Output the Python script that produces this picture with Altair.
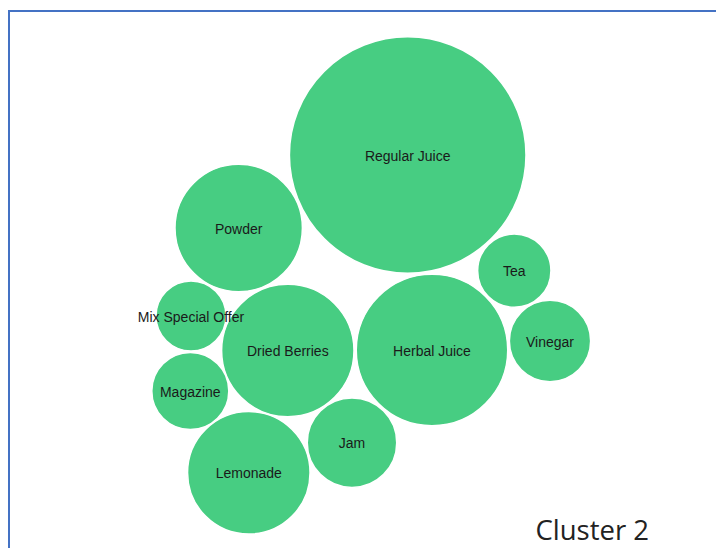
import altair as alt
import pandas as pd

# Bubble data (layout centres, values proportional to bubble area)
names = ["Regular Juice", "Herbal Juice", "Dried Berries", "Powder", "Lemonade",
         "Jam", "Vinegar", "Magazine", "Tea", "Mix Special Offer"]
values = [100, 41, 31.3, 29, 26.8, 14.3, 11.8, 10.6, 9.6, 8.75]
layout_x = [407.7, 432, 287.8, 238.7, 248.8, 352, 550, 190.3, 514.3, 191]
layout_y = [155, 350, 350.5, 228, 472.8, 442.7, 341, 391, 270.7, 316]
cluster_label = ["Cluster 2"]

df = pd.DataFrame({"name": names, "value": values, "x": layout_x, "y": layout_y})

W, H = 704, 540
xs = alt.Scale(domain=[12, 12 + W])
ys = alt.Scale(domain=[8, 8 + H], reverse=True)

base = alt.Chart(df).encode(
    x=alt.X("x:Q", scale=xs, axis=None),
    y=alt.Y("y:Q", scale=ys, axis=None),
)

bubbles = base.mark_circle(opacity=1, color="#47CD82", stroke="white", strokeWidth=1.5).encode(
    size=alt.Size("value:Q", scale=alt.Scale(domain=[0, 100], range=[0, 55980]), legend=None)
)

labels = base.mark_text(font="Liberation Sans", fontSize=14, color="#1a1a1a",
                        align="center", baseline="middle", dy=1.5).encode(text="name:N")

border_df = pd.DataFrame({"k": [1]})
frame = alt.Chart(border_df).mark_rect(fill=None, fillOpacity=0, stroke="#4472C4", strokeWidth=2).encode(
    x=alt.value(-3), x2=alt.value(W + 30), y=alt.value(3), y2=alt.value(H + 30)
)

cluster = alt.Chart(pd.DataFrame({"t": cluster_label})).mark_text(
    font="Open Sans", fontSize=27.5, color="#222222", align="right", baseline="alphabetic"
).encode(text="t:N", x=alt.value(649 - 12), y=alt.value(540 - 8))

chart = alt.layer(bubbles, labels, frame, cluster).properties(
    width=W, height=H,
    padding={"left": 4, "top": 0, "right": 0, "bottom": 0},
    autosize=alt.AutoSizeParams(type="none"),
    background="white",
).configure_view(stroke=None)

chart.save("out.html", embed_options={"renderer": "svg", "actions": False})
